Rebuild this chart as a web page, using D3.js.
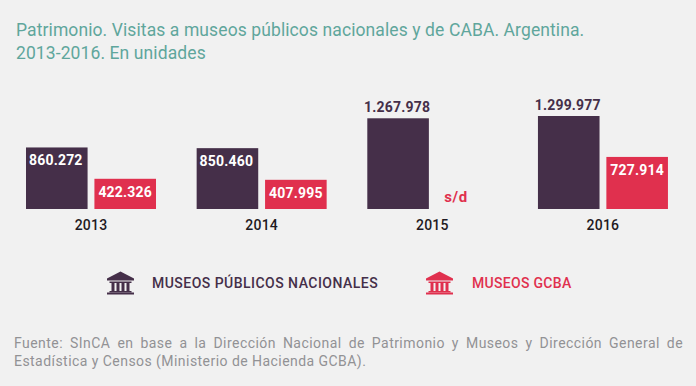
<!DOCTYPE html>
<html>
<head>
<meta charset="utf-8">
<script src="https://cdn.jsdelivr.net/npm/d3@7"></script>
<style>
  html, body { margin: 0; padding: 0; background: #f1f1f1; }
  svg { display: block; }
  text { font-family: Roboto, sans-serif; }
</style>
</head>
<body>
<svg id="chart"></svg>
<script>
// Data
const years = ["2013", "2014", "2015", "2016"];
const seriesNames = ["MUSEOS PÚBLICOS NACIONALES", "MUSEOS GCBA"];
const nacionales = [860272, 850460, 1267978, 1299977];
const gcba = [422326, 407995, null, 727914];
const titleLines = [
  "Patrimonio. Visitas a museos públicos nacionales y de CABA. Argentina.",
  "2013-2016. En unidades",
];
const sourceLines = [
  "Fuente: SInCA en base a la Dirección Nacional de Patrimonio y Museos y Dirección General de",
  "Estadística y Censos (Ministerio de Hacienda GCBA).",
];

const DARK = "#452f49";
const RED = "#e0304e";
const TEAL = "#5fa69c";
const GREY = "#929295";

const width = 696;
const height = 386;
const baseline = 209;

const svg = d3.select("#chart").attr("width", width).attr("height", height);

// Number format with dots
const es = d3.formatLocale({ decimal: ",", thousands: ".", grouping: [3], currency: ["$", ""] });
const fmt = es.format(",d");

// Scales
const xScale = d3.scaleBand().domain(years).range([26, 708.6]);
const xInner = d3.scaleBand().domain([0, 1]).range([0, 130]).paddingInner(0.1);
const yScale = d3.scaleLinear().domain([0, 1299977]).range([baseline, 116]);

// Title
svg.append("g")
  .selectAll("text")
  .data(titleLines)
  .join("text")
  .attr("x", 16)
  .attr("y", (d, i) => 35.5 + i * 23)
  .attr("font-size", 17.5)
  .attr("letter-spacing", 0.1)
  .attr("fill", TEAL)
  .text((d) => d);

// Bars
const groups = svg.selectAll(".year")
  .data(years)
  .join("g")
  .attr("class", "year")
  .attr("transform", (d) => `translate(${xScale(d)},0)`);

[nacionales, gcba].forEach((values, s) => {
  const color = s === 0 ? DARK : RED;
  groups.each(function (year, i) {
    const v = values[i];
    const g = d3.select(this);
    const barX = xInner(s);
    const mid = barX + xInner.bandwidth() / 2;
    if (v === null) {
      g.append("text")
        .attr("x", mid - 10.5)
        .attr("y", baseline - 7)
        .attr("text-anchor", "middle")
        .attr("font-size", 15)
        .attr("font-weight", 700)
        .attr("letter-spacing", 0.6)
        .attr("fill", RED)
        .text("s/d");
      return;
    }
    g.append("rect")
      .attr("x", barX)
      .attr("y", yScale(v))
      .attr("width", xInner.bandwidth())
      .attr("height", baseline - yScale(v))
      .attr("fill", color);
    const outside = baseline - yScale(v) > 80;
    g.append("text")
      .attr("x", mid - (s === 0 ? 1 : 0))
      .attr("y", outside ? yScale(v) - 6 : yScale(v) + 18)
      .attr("text-anchor", "middle")
      .attr("font-size", 14)
      .attr("font-weight", 700)
      .attr("letter-spacing", 0.2)
      .attr("fill", outside ? DARK : "#ffffff")
      .text(fmt(v));
  });
});

// Year labels
groups.append("text")
  .attr("x", 65)
  .attr("y", 230)
  .attr("text-anchor", "middle")
  .attr("font-size", 14)
  .attr("font-weight", 500)
  .attr("letter-spacing", 0.2)
  .attr("fill", "#1f1a22")
  .text((d) => d);

// Legend
const drawMuseum = (g, color) => {
  const icon = g.append("g").attr("fill", color);
  icon.append("path").attr("d", "M0 8.5 L13.5 1.5 L27 8.5 L27 10.5 L0 10.5 Z");
  icon.append("rect").attr("x", 2.5).attr("y", 11.5).attr("width", 22).attr("height", 1.5);
  [4.5, 9.5, 14.5, 19.5].forEach((x) => {
    icon.append("rect").attr("x", x).attr("y", 13).attr("width", 3).attr("height", 8.5);
  });
  icon.append("rect").attr("x", 2.5).attr("y", 21).attr("width", 22).attr("height", 1.5);
  icon.append("rect").attr("x", 0).attr("y", 22.5).attr("width", 27).attr("height", 2);
};

const legend = svg.selectAll(".legend")
  .data(seriesNames)
  .join("g")
  .attr("class", "legend")
  .attr("transform", (d, i) => `translate(${i === 0 ? 107 : 426},270)`);

legend.each(function (d, i) {
  drawMuseum(d3.select(this), i === 0 ? DARK : RED);
});

legend.append("text")
  .attr("x", (d, i) => (i === 0 ? 45 : 46))
  .attr("y", 18)
  .attr("font-size", 14)
  .attr("font-weight", 500)
  .attr("letter-spacing", (d, i) => (i === 0 ? 0.47 : 0.3))
  .attr("fill", (d, i) => (i === 0 ? DARK : RED))
  .text((d) => d);

// Source
svg.append("g")
  .selectAll("text")
  .data(sourceLines)
  .join("text")
  .attr("x", 14)
  .attr("y", (d, i) => 348 + i * 18)
  .attr("font-size", 14)
  .attr("letter-spacing", 0.45)
  .attr("word-spacing", (d, i) => (i === 0 ? 3.1 : 0))
  .attr("fill", GREY)
  .text((d) => d);
</script>
</body>
</html>
